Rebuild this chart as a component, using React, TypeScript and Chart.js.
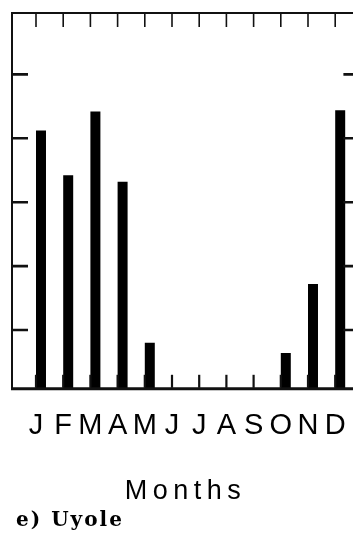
import React, { useEffect, useRef } from "react";
import { Chart, registerables } from "chart.js";

Chart.register(...registerables);

// ---- data ----
const months: string[] = ["J", "F", "M", "A", "M", "J", "J", "A", "S", "O", "N", "D"];
const rainfall: (number | null)[] = [202, 167, 217, 162, 36, 0, 0, 0, 0, 28, 82, 218];
const spacer: (number | null)[] = [null, null, null, null, null, null, null, null, null, null, null, null];
const yTicks: number[] = [46, 96, 146, 196, 246];
const yMax = 294;
const xTitle = "Months";
const caption = "e) Uyole";

const framePlugin = {
  id: "frameTicks",
  beforeDraw(chart: any) {
    chart.ctx.letterSpacing = "5.5px";
  },
  beforeDatasetsDraw(chart: any) {
    chart.ctx.letterSpacing = "0px";
  },
  afterDraw(chart: any) {
    const { ctx, chartArea: a, scales } = chart;
    const xs = scales.x;
    const ys = scales.y;
    const L = a.left - 10.4;
    const R = a.right + 9.6;
    const T = a.top;
    const B = a.bottom;
    ctx.save();
    ctx.letterSpacing = "0px";
    ctx.strokeStyle = "#111";
    ctx.lineWidth = 2;
    ctx.beginPath();
    ctx.moveTo(L, B);
    ctx.lineTo(L, T);
    ctx.lineTo(R, T);
    ctx.lineTo(R, B);
    ctx.stroke();
    ctx.lineWidth = 3;
    ctx.beginPath();
    ctx.moveTo(L - 1, B);
    ctx.lineTo(R + 1, B);
    ctx.stroke();
    // top tick marks
    ctx.lineWidth = 1.6;
    for (let i = 0; i < xs.ticks.length; i++) {
      const px = xs.getPixelForTick(i);
      ctx.beginPath();
      ctx.moveTo(px, T);
      ctx.lineTo(px, T + 14);
      ctx.stroke();
    }
    // bottom tick marks
    ctx.lineWidth = 2.2;
    for (let i = 0; i < xs.ticks.length; i++) {
      const px = xs.getPixelForTick(i);
      ctx.beginPath();
      ctx.moveTo(px, B - 1);
      ctx.lineTo(px, B - 14);
      ctx.stroke();
    }
    ctx.lineWidth = 2.6;
    ys.ticks.forEach((t: any) => {
      const py = ys.getPixelForValue(t.value);
      ctx.beginPath();
      ctx.moveTo(L, py);
      ctx.lineTo(L + 16, py);
      ctx.moveTo(R, py);
      ctx.lineTo(R - 15, py);
      ctx.stroke();
    });
    ctx.restore();
  },
};

function RainChart() {
  const ref = useRef<HTMLCanvasElement | null>(null);
  useEffect(() => {
    if (!ref.current) return;
    const chart = new Chart(ref.current, {
      type: "bar",
      data: {
        labels: months,
        datasets: [
          { data: spacer, backgroundColor: "#000", borderWidth: 0 },
          { data: rainfall, backgroundColor: "#000", borderWidth: 0 },
        ],
      },
      options: {
        responsive: false,
        animation: false,
        events: [],
        layout: { padding: { top: 13, left: 22.4, right: 23.2, bottom: 0.5 } },
        datasets: { bar: { barPercentage: 1, categoryPercentage: 0.735 } },
        plugins: { legend: { display: false }, tooltip: { enabled: false }, title: { display: false } },
        scales: {
          x: {
            type: "category",
            offset: true,
            grid: { display: false, drawTicks: false },
            border: { display: false },
            ticks: {
              z: 1,
              color: "#000",
              padding: 20,
              autoSkip: false,
              maxRotation: 0,
              font: { family: "'Liberation Sans', Arial, sans-serif", size: 29 },
            },
            title: {
              display: true,
              text: xTitle,
              color: "#000",
              padding: { top: 11.5, bottom: 0 },
              font: { family: "'Liberation Sans', Arial, sans-serif", size: 27 },
            },
          },
          y: {
            display: false,
            min: 0,
            max: yMax,
            afterBuildTicks: (s: any) => {
              s.ticks = yTicks.map((v) => ({ value: v }));
            },
          },
        },
      },
      plugins: [framePlugin],
    });
    return () => chart.destroy();
  }, []);
  return <canvas ref={ref} width={372} height={508} style={{ display: "block" }} />;
}

export default function App() {
  return (
    <div
      style={{
        position: "absolute",
        left: 0,
        top: 0,
        width: 353,
        height: 535,
        overflow: "hidden",
        background: "#fff",
      }}
    >
      <RainChart />
      <div
        style={{
          position: "absolute",
          left: 16,
          top: 509,
          fontFamily: "'DejaVu Serif', serif",
          fontWeight: "bold",
          fontSize: 20,
          lineHeight: "20px",
          letterSpacing: "2px",
          color: "#000",
          whiteSpace: "nowrap",
        }}
      >
        {caption}
      </div>
    </div>
  );
}
